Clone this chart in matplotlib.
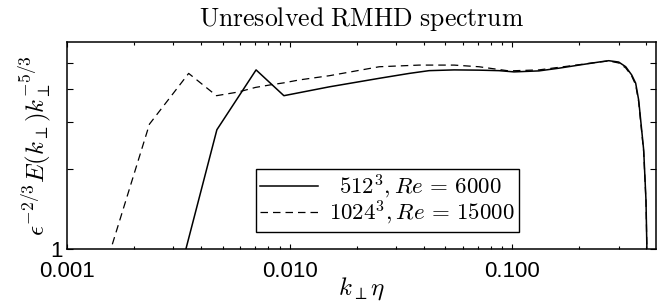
import numpy as np
import matplotlib
matplotlib.use("Agg")
import matplotlib.pyplot as plt
from matplotlib.ticker import FixedLocator, FixedFormatter, LogLocator, NullFormatter

plt.rcParams['mathtext.fontset'] = 'cm'
plt.rcParams['font.family'] = ['Liberation Sans', 'DejaVu Sans']

# 512^3, Re = 6000 (solid)
k_512 = [0.00235, 0.0047, 0.00705, 0.0094, 0.01505, 0.0252, 0.0344, 0.0422,
         0.0547, 0.0708, 0.087, 0.1016, 0.1315, 0.1616, 0.1987, 0.2442,
         0.2707, 0.3002, 0.3227, 0.3432, 0.3577, 0.369, 0.3886, 0.398, 0.4027]
E_512 = [0.30, 2.80, 4.70, 3.76, 4.06, 4.37, 4.56, 4.67,
         4.70, 4.69, 4.67, 4.62, 4.66, 4.77, 4.90, 5.03,
         5.09, 5.03, 4.83, 4.50, 4.19, 3.62, 2.35, 1.52, 0.90]

# 1024^3, Re = 15000 (dashed)
k_1024 = [0.00117, 0.00234, 0.00351, 0.00468, 0.00585, 0.00702, 0.00819, 0.00936,
          0.01104, 0.01505, 0.0252, 0.0381, 0.0547, 0.0708, 0.0964, 0.1315,
          0.1792, 0.2442, 0.2707, 0.3002, 0.3227, 0.3432, 0.3577, 0.369,
          0.3886, 0.398, 0.4027]
E_1024 = [0.45, 2.94, 4.56, 3.76, 3.88, 4.04, 4.13, 4.20,
          4.31, 4.47, 4.83, 4.90, 4.90, 4.83, 4.66, 4.70,
          4.86, 5.03, 5.08, 4.99, 4.78, 4.46, 4.13, 3.56,
          2.31, 1.50, 0.90]

labels = [r'$\enspace512^3, Re\,=\,6000$', r'$1024^3, Re\,=\,15000$']
xticks = [0.001, 0.01, 0.1]
xticklabels = ['0.001', '0.010', '0.100']

fig = plt.figure(figsize=(6.57, 3.03), dpi=100)
ax = fig.add_axes([0.1024, 0.1792, 0.8966, 0.6832])

ax.plot(k_512, E_512, color='black', lw=1.1, label=labels[0])
ax.plot(k_1024, E_1024, color='black', lw=0.9, linestyle=(0, (6, 4)), label=labels[1])

ax.set_xscale('log')
ax.set_yscale('log')
ax.set_xlim(0.001, 0.443)
ax.set_ylim(1, 6)

ax.xaxis.set_major_locator(FixedLocator(xticks))
ax.xaxis.set_major_formatter(FixedFormatter(xticklabels))
ax.xaxis.set_minor_locator(LogLocator(base=10, subs=np.arange(2, 10)))
ax.xaxis.set_minor_formatter(NullFormatter())

ax.yaxis.set_major_locator(FixedLocator([1, 2, 3, 4, 5]))
ax.yaxis.set_major_formatter(FixedFormatter(['1', '', '', '', '']))
ax.yaxis.set_minor_locator(FixedLocator([]))

ax.tick_params(axis='both', which='both', direction='in', top=True, right=True,
               width=0.8, labelsize=16)
ax.tick_params(axis='x', which='major', length=3.6, pad=9)
ax.tick_params(axis='x', which='minor', length=2.2)
ax.tick_params(axis='y', which='major', length=4.3, pad=3)

for s in ax.spines.values():
    s.set_linewidth(1.1)

ax.set_title(r'$\mathrm{Unresolved\ RMHD\ spectrum}$', fontsize=18.5, pad=11)
ax.set_xlabel(r'$k_\perp\eta$', fontsize=18, labelpad=-5)
ax.set_ylabel(r'$\epsilon^{-2/3}E(k_\perp)k_\perp^{-5/3}$', fontsize=18, labelpad=-2)

leg = ax.legend(loc='lower left', bbox_to_anchor=(0.32, 0.081), borderaxespad=0,
                fontsize=16.5, fancybox=False, edgecolor='black', framealpha=1,
                labelspacing=-0.08, handlelength=2.5, handletextpad=0.5,
                borderpad=0.2)
leg.get_frame().set_linewidth(1.0)

fig.savefig('out.png', dpi=100)
